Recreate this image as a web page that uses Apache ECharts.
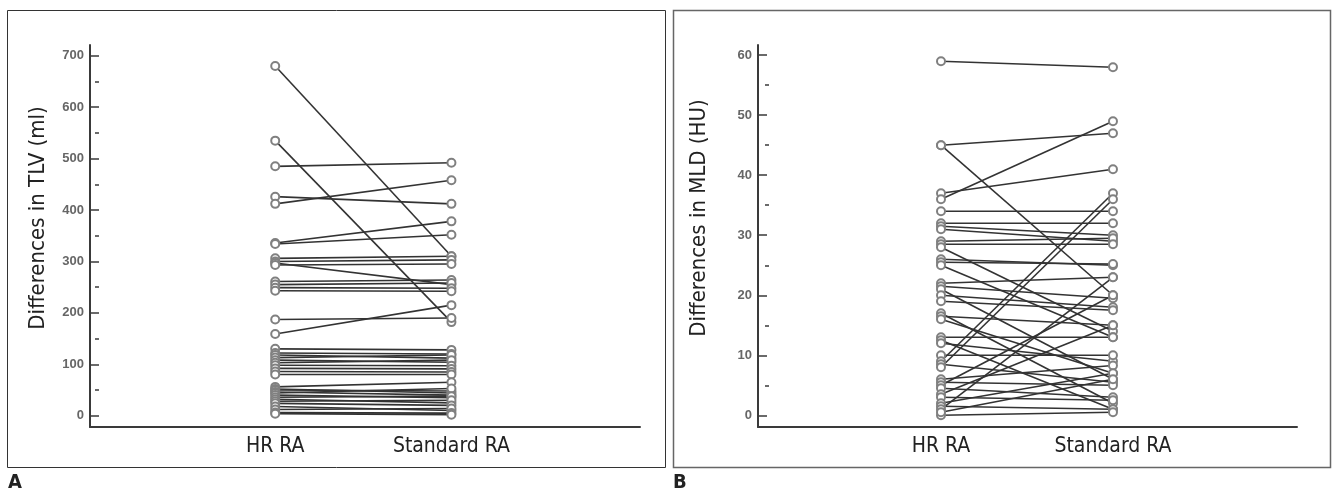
<!DOCTYPE html>
<html>
<head>
<meta charset="utf-8">
<script src="https://cdn.jsdelivr.net/npm/echarts@6/dist/echarts.min.js"></script>
<style>
html,body{margin:0;padding:0;background:#fff;}
#c{width:1333px;height:493px;}
</style>
</head>
<body>
<div id="c"></div>
<script>
// ---- Data ----
var categories = ['HR RA', 'Standard RA'];

// Panel A: Differences in TLV (ml)
var tlvHR  = [680, 535, 485, 426, 412, 336, 334, 306, 300, 297, 293, 261, 255, 249, 243, 187, 159,
              130, 122, 118, 113, 108, 103, 98, 92, 86, 80,
              56, 52, 50, 46, 44, 40, 36, 32, 28, 24, 18, 12, 6, 4];
var tlvStd = [310, 182, 492, 412, 458, 378, 352, 310, 303, 255, 295, 264, 258, 248, 242, 190, 215,
              128, 120, 112, 118, 104, 108, 97, 91, 85, 80,
              65, 44, 48, 40, 53, 35, 38, 25, 30, 20, 10, 14, 5, 2];
var tlvTicks = [0, 100, 200, 300, 400, 500, 600, 700];
var tlvMinorTicks = [50, 150, 250, 350, 450, 550, 650];

// Panel B: Differences in MLD (HU)
var mldHR  = [59, 45, 45, 37, 36, 34, 32, 31.5, 31, 29, 28.5, 28, 26, 25.5, 25, 22, 21.5, 21, 20, 19,
              17, 16.5, 16, 13, 12.5, 12, 10, 9, 8.5, 8, 6, 5.5, 5, 4.5, 3.5, 3, 2, 1.5, 1, 0, 0.5];
var mldStd = [58, 47, 20, 41, 49, 34, 32, 30, 29, 29.5, 28.5, 14, 25, 25.2, 13, 23, 19.5, 6, 18, 17.5,
              2, 15, 7, 13, 1, 9, 10, 37, 5.5, 36, 8.3, 5, 20, 3, 15, 2.5, 7, 1, 23, 0.5, 6];
var mldTicks = [0, 10, 20, 30, 40, 50, 60];
var mldMinorTicks = [5, 15, 25, 35, 45, 55];

// ---- Chart ----
var chart = echarts.init(document.getElementById('c'), null, {renderer: 'canvas'});
var catFont = '"DejaVu Sans Condensed", "Liberation Sans Narrow", "DejaVu Sans", sans-serif';
var tickFont = '"Liberation Sans", Arial, sans-serif';
var axisColor = '#3a3a3a';

function xAxisDef(gi, min, max) {
  return {
    type: 'value', gridIndex: gi, min: min, max: max,
    axisLine: {show: true, onZero: false, lineStyle: {color: axisColor, width: 2}},
    axisTick: {show: false},
    splitLine: {show: false},
    axisLabel: {
      customValues: [1, 2], margin: 9,
      formatter: function (v) { return categories[Math.round(v) - 1] || ''; },
      fontFamily: catFont, fontSize: 21, color: '#222'
    }
  };
}
function yMain(gi, min, max, ticks, name, gap) {
  return {
    type: 'value', gridIndex: gi, min: min, max: max,
    name: name, nameLocation: 'middle', nameGap: gap, nameRotate: 90,
    nameTextStyle: {fontFamily: catFont, fontSize: 22, color: '#222', padding: [0, 0, 0, 36]},
    axisLine: {show: true, onZero: false, lineStyle: {color: axisColor, width: 2}},
    axisTick: {show: true, inside: true, length: 9, customValues: ticks, lineStyle: {color: axisColor, width: 1.5}},
    axisLabel: {customValues: ticks, margin: 6, fontFamily: tickFont, fontSize: 13, fontWeight: 'bold', color: '#666'},
    splitLine: {show: false}
  };
}
function yMinor(gi, min, max, ticks) {
  return {
    type: 'value', gridIndex: gi, min: min, max: max,
    axisLine: {show: false},
    axisTick: {show: true, inside: true, length: 4, customValues: ticks, lineStyle: {color: axisColor, width: 1.5}},
    axisLabel: {show: false},
    splitLine: {show: false}
  };
}

var series = [];
function addPairs(hr, st, xi, yi) {
  for (var i = 0; i < hr.length; i++) {
    series.push({
      type: 'line', xAxisIndex: xi, yAxisIndex: yi,
      data: [[1, hr[i]], [2, st[i]]],
      symbol: 'emptyCircle', symbolSize: 8, showSymbol: true,
      itemStyle: {color: '#808080', borderWidth: 1.4},
      lineStyle: {color: '#333', width: 1.6},
      silent: true, animation: false
    });
  }
}
addPairs(tlvHR, tlvStd, 0, 0);
addPairs(mldHR, mldStd, 1, 2);

chart.setOption({
  animation: false,
  backgroundColor: '#fff',
  grid: [
    {left: 90, top: 45, width: 550, height: 382},
    {left: 758, top: 45, width: 539, height: 382}
  ],
  xAxis: [xAxisDef(0, -0.051, 3.07), xAxisDef(1, -0.064, 3.07)],
  yAxis: [
    yMain(0, -22, 721, tlvTicks, 'Differences in TLV (ml)', 41),
    yMinor(0, -22, 721, tlvMinorTicks),
    yMain(1, -1.95, 61.7, mldTicks, 'Differences in MLD (HU)', 48),
    yMinor(1, -1.95, 61.7, mldMinorTicks)
  ],
  series: series,
  graphic: [
    {type: 'rect', shape: {x: 7.5, y: 10.5, width: 658, height: 457}, style: {fill: 'none', stroke: '#333', lineWidth: 1}, silent: true},
    {type: 'rect', shape: {x: 673.5, y: 10.5, width: 657, height: 457}, style: {fill: 'none', stroke: '#666', lineWidth: 1.5}, silent: true},
    {type: 'text', left: 8, top: 473, style: {text: 'A', font: 'bold 20px "DejaVu Sans Condensed", "Liberation Sans", sans-serif', fill: '#222'}},
    {type: 'text', left: 673, top: 473, style: {text: 'B', font: 'bold 20px "DejaVu Sans Condensed", "Liberation Sans", sans-serif', fill: '#222'}}
  ]
});
</script>
</body>
</html>
